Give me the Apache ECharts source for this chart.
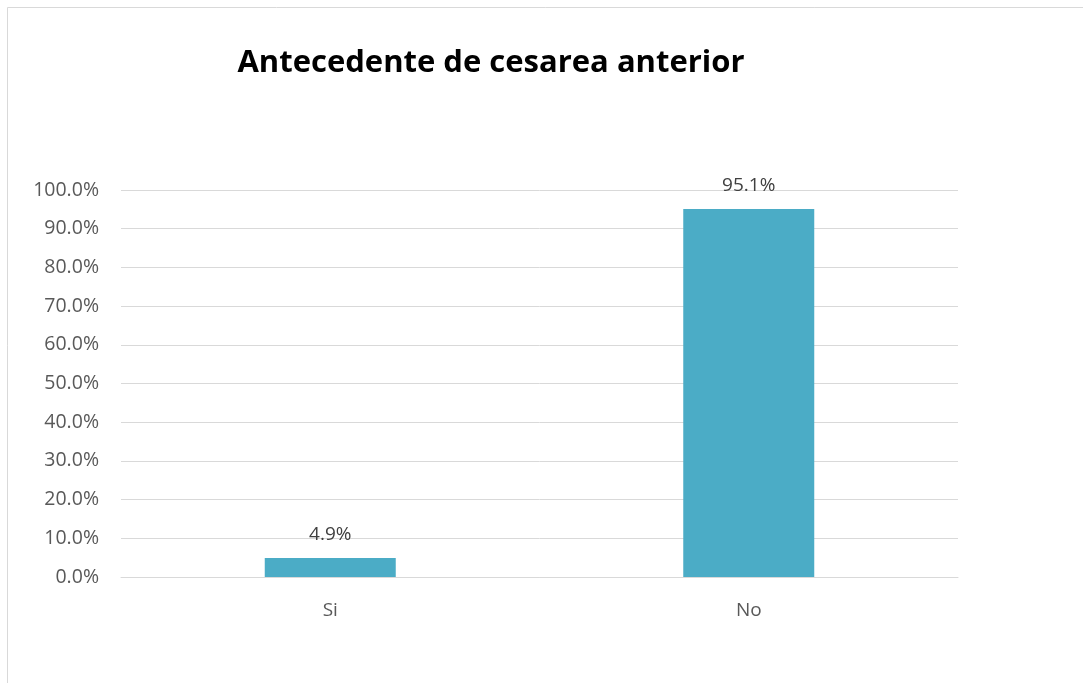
<!DOCTYPE html>
<html><head><meta charset="utf-8">
<script src="https://cdn.jsdelivr.net/npm/echarts@6/dist/echarts.min.js"></script>
<style>html,body{margin:0;padding:0;background:#fff}#c{width:1083px;height:683px}</style>
</head><body><div id="c"></div>
<script>
const titleText = "Antecedente de cesarea anterior";
const categories = ["Si", "No"];
const values = [4.9, 95.1];
const yMin = 0, yMax = 100, yStep = 10;

const chart = echarts.init(document.getElementById('c'), null, {renderer: 'canvas'});
const font = '"Open Sans", "Liberation Sans", sans-serif';
chart.setOption({
  animation: false,
  backgroundColor: '#fff',
  graphic: [{
    type: 'rect', shape: {x: 7.5, y: 7.5, width: 1100, height: 700},
    style: {fill: 'none', stroke: '#d9d9d9', lineWidth: 1}, silent: true
  }],
  title: {
    text: titleText, left: 486, top: 43, textAlign: 'center',
    textStyle: {fontFamily: font, fontWeight: 'bold', fontSize: 31, color: '#000'}
  },
  grid: {left: 121, right: 125, top: 190, bottom: 106, containLabel: false},
  xAxis: {
    type: 'category', data: categories,
    axisLine: {lineStyle: {color: '#d9d9d9', width: 1}},
    axisTick: {show: false},
    axisLabel: {color: '#595959', fontFamily: font, fontSize: 19, margin: 24}
  },
  yAxis: {
    type: 'value', min: yMin, max: yMax, interval: yStep,
    axisLine: {show: false}, axisTick: {show: false},
    splitLine: {lineStyle: {color: '#d9d9d9', width: 1}},
    axisLabel: {color: '#595959', fontFamily: font, fontSize: 19.5, margin: 22,
      formatter: v => v.toFixed(1) + '%'}
  },
  series: [{
    type: 'bar', data: values, barWidth: 131,
    itemStyle: {color: '#4BACC6'},
    label: {show: true, position: 'top', distance: 14, color: '#404040',
      fontFamily: font, fontSize: 19, formatter: p => p.value.toFixed(1) + '%'}
  }]
});
</script></body></html>
